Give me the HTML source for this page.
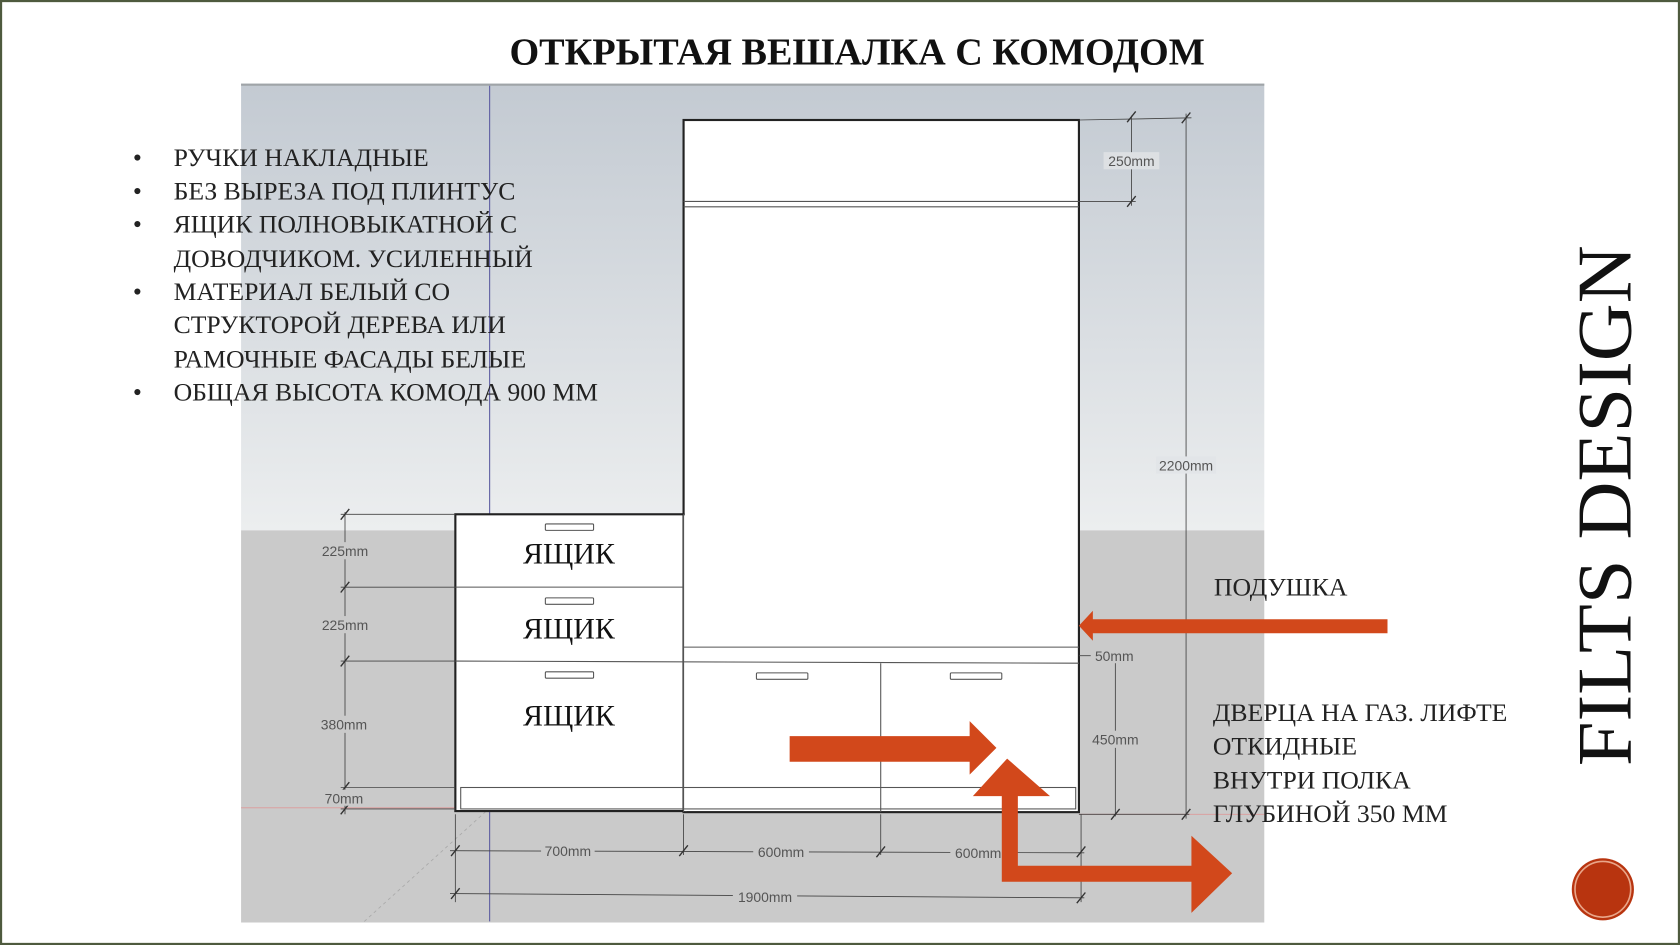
<!DOCTYPE html>
<html><head><meta charset="utf-8"><style>
html,body{margin:0;padding:0;background:#fff;}
svg{display:block;}
</style></head><body>
<svg width="1680" height="945" viewBox="0 0 1568 882" xmlns="http://www.w3.org/2000/svg" font-family="'Liberation Serif','DejaVu Serif',serif">
<defs>
<linearGradient id="sky" x1="0" y1="0" x2="0" y2="1">
<stop offset="0" stop-color="#c3cad2"/><stop offset="1" stop-color="#eceeef"/>
</linearGradient>
</defs>
<rect x="0" y="0" width="1568" height="882" fill="#fff"/>
<rect x="1" y="1" width="1566" height="880" fill="none" stroke="#4e5a3e" stroke-width="2"/>
<rect x="225" y="78" width="955" height="417" fill="url(#sky)"/>
<rect x="225" y="495" width="955" height="366" fill="#cacaca"/>
<line x1="225" y1="79" x2="1180" y2="79" stroke="#a0a4a8" stroke-width="2"/>
<line x1="457" y1="80" x2="457" y2="860" stroke="#5a5aa0" stroke-width="1"/>
<line x1="225" y1="754" x2="425" y2="754" stroke="#d99" stroke-width="0.8"/>
<line x1="1007" y1="760" x2="1180" y2="760" stroke="#d99" stroke-width="0.8"/>
<line x1="340" y1="860" x2="455" y2="756" stroke="#aaa" stroke-width="0.8" stroke-dasharray="3,3"/>
<rect x="638" y="112" width="369" height="646" fill="#fff" stroke="#222" stroke-width="2"/>
<rect x="425" y="480" width="213" height="277" fill="#fff" stroke="#222" stroke-width="2"/>
<rect x="638" y="481" width="3" height="276" fill="#fff"/>
<g stroke="#555" stroke-width="1" fill="none">
<line x1="638" y1="188" x2="1007" y2="188"/><line x1="638" y1="193" x2="1007" y2="193"/>
<line x1="425" y1="548" x2="638" y2="548"/>
<line x1="425" y1="617" x2="1007" y2="619"/>
<line x1="638" y1="604" x2="1007" y2="604"/>
<line x1="638" y1="480" x2="638" y2="758"/>
<line x1="822" y1="619" x2="822" y2="758"/>
<rect x="430" y="735" width="574" height="20"/>
<rect x="509" y="489" width="45" height="6" rx="1"/>
<rect x="509" y="558" width="45" height="6" rx="1"/>
<rect x="509" y="627" width="45" height="6" rx="1"/>
<rect x="706" y="628" width="48" height="6" rx="1"/>
<rect x="887" y="628" width="48" height="6" rx="1"/>
</g>
<g font-size="28" fill="#111" text-anchor="middle">
<text x="531" y="526">ЯЩИК</text><text x="531" y="596">ЯЩИК</text><text x="531" y="677">ЯЩИК</text>
</g>
<g stroke="#444" stroke-width="0.8" fill="none">
<line x1="322" y1="478" x2="322" y2="760"/>
<line x1="318" y1="480" x2="425" y2="480"/><line x1="318" y1="548" x2="425" y2="548"/>
<line x1="318" y1="617" x2="425" y2="617"/><line x1="318" y1="735" x2="425" y2="735"/>
<line x1="318" y1="755" x2="425" y2="755"/>
<line x1="1056" y1="108" x2="1056" y2="192"/><line x1="1007" y1="112" x2="1112" y2="110"/>
<line x1="1007" y1="188" x2="1060" y2="188"/>
<line x1="1107" y1="106" x2="1107" y2="764"/>
<line x1="1041" y1="610" x2="1041" y2="762"/><line x1="1007" y1="612" x2="1045" y2="612"/>
<line x1="1007" y1="760" x2="1110" y2="760"/>
<line x1="425" y1="760" x2="425" y2="842"/><line x1="1009" y1="760" x2="1009" y2="842"/>
<line x1="638" y1="760" x2="638" y2="798"/><line x1="822" y1="760" x2="822" y2="798"/>
<line x1="420" y1="794" x2="1012" y2="796"/>
<line x1="420" y1="834" x2="1012" y2="838"/>
</g>
<g stroke="#333" stroke-width="1.3">
<path d="M318 485l8-10M318 553l8-10M318 622l8-10M318 740l8-10M318 760l8-10"/>
<path d="M1052 114l8-10M1052 193l8-10M1103 115l8-10M1103 765l8-10M1037 617l8-10M1037 765l8-10"/>
<path d="M421 799l8-10M634 799l8-10M818 800l8-10M1005 800l8-10M421 839l8-10M1005 843l8-10"/>
</g>
<g font-family="'Liberation Sans',sans-serif" font-size="13" fill="#555" text-anchor="middle">
<rect x="298" y="506" width="48" height="16" fill="#cacaca"/><text x="322" y="519">225mm</text>
<rect x="298" y="575" width="48" height="16" fill="#cacaca"/><text x="322" y="588">225mm</text>
<rect x="298" y="668" width="48" height="16" fill="#cacaca"/><text x="321" y="681">380mm</text>
<rect x="300" y="737" width="44" height="15" fill="#cacaca"/><text x="321" y="750">70mm</text>
<rect x="1030" y="142" width="52" height="16" fill="#dde0e3"/><text x="1056" y="155">250mm</text>
<rect x="1079" y="426" width="56" height="16" fill="#e2e5e8"/><text x="1107" y="439">2200mm</text>
<rect x="1018" y="604" width="44" height="15" fill="#cacaca"/><text x="1040" y="617">50mm</text>
<rect x="1016" y="682" width="50" height="16" fill="#cacaca"/><text x="1041" y="695">450mm</text>
<rect x="505" y="786" width="50" height="16" fill="#cacaca"/><text x="530" y="799">700mm</text>
<rect x="703" y="787" width="52" height="16" fill="#cacaca"/><text x="729" y="800">600mm</text>
<rect x="887" y="788" width="52" height="16" fill="#cacaca"/><text x="913" y="801">600mm</text>
<rect x="684" y="829" width="60" height="16" fill="#cacaca"/><text x="714" y="842">1900mm</text>
</g>
<g fill="#d2481b">
<polygon points="1007,584 1020,570 1020,578 1295,578 1295,591 1020,591 1020,598"/>
<polygon points="737,687 905,687 905,673 930,698 905,723 905,711 737,711"/>
<polygon points="940,708 980,743 950,743 950,808 1112,808 1112,780 1150,815 1112,852 1112,823 935,823 935,743 908,743"/>
</g>
<text x="800" y="60" font-size="36" font-weight="bold" text-anchor="middle" fill="#111" textLength="649" lengthAdjust="spacingAndGlyphs">ОТКРЫТАЯ ВЕШАЛКА С КОМОДОМ</text>
<g font-size="24" fill="#222">
<text x="124" y="155">•</text><text x="162" y="155">РУЧКИ НАКЛАДНЫЕ</text>
<text x="124" y="186">•</text><text x="162" y="186">БЕЗ ВЫРЕЗА ПОД ПЛИНТУС</text>
<text x="124" y="217">•</text><text x="162" y="217">ЯЩИК ПОЛНОВЫКАТНОЙ С</text>
<text x="162" y="249">ДОВОДЧИКОМ. УСИЛЕННЫЙ</text>
<text x="124" y="280">•</text><text x="162" y="280">МАТЕРИАЛ БЕЛЫЙ СО</text>
<text x="162" y="311">СТРУКТОРОЙ ДЕРЕВА ИЛИ</text>
<text x="162" y="343">РАМОЧНЫЕ ФАСАДЫ БЕЛЫЕ</text>
<text x="124" y="374">•</text><text x="162" y="374">ОБЩАЯ ВЫСОТА КОМОДА 900 ММ</text>
</g>
<g font-size="24" fill="#222">
<text x="1133" y="556">ПОДУШКА</text>
<text x="1132" y="673">ДВЕРЦА НА ГАЗ. ЛИФТЕ</text>
<text x="1132" y="704">ОТКИДНЫЕ</text>
<text x="1132" y="736">ВНУТРИ ПОЛКА</text>
<text x="1132" y="767">ГЛУБИНОЙ 350 ММ</text>
</g>
<text transform="translate(1522,715) rotate(-90)" font-size="72" fill="#111" textLength="486" lengthAdjust="spacingAndGlyphs">FILTS  DESIGN</text>
<circle cx="1496" cy="830" r="29" fill="#b8340f"/>
<circle cx="1496" cy="830" r="26" fill="none" stroke="#e9a68a" stroke-width="1.5"/>
</svg>
</body></html>
